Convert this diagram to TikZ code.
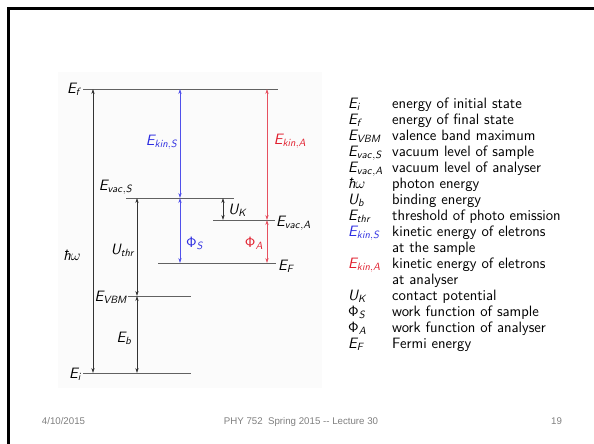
\RequirePackage{fix-cm}
\documentclass[tikz,border=0pt]{standalone}
\usepackage{fontspec}
\newfontfamily\footfont{Liberation Sans}
\usetikzlibrary{arrows.meta}
\DeclareMathAlphabet{\mathsfit}{OT1}{cmss}{m}{sl}
\DeclareMathAlphabet{\mathsfup}{OT1}{cmss}{m}{n}
\definecolor{kinblue}{RGB}{45,45,225}
\definecolor{kinred}{RGB}{225,30,45}
\definecolor{lineblue}{RGB}{80,80,235}
\definecolor{linered}{RGB}{230,80,95}
\definecolor{footgray}{RGB}{128,128,128}
\newcommand\Esub[1]{\mathsfit{E}_{\mathsfit{#1}}}
\newcommand\hbomega{{\sffamily\itshape ħ}$\omega$}
\tikzset{
  level/.style={draw=black!62, line width=0.8pt},
  dbl/.style={{Stealth[length=5pt,width=3.2pt]}-{Stealth[length=5pt,width=3.2pt]}, line width=0.5pt},
  lbl/.style={font=\fontsize{15}{16}\selectfont, inner sep=1pt},
  foot/.style={font=\footfont\fontsize{9.7}{11}\selectfont, text=footgray, inner sep=0pt, anchor=base},
}
\begin{document}
\begin{tikzpicture}[x=1pt,y=-1pt]
\useasboundingbox (0,0) rectangle (594,444);
\fill[white] (0,0) rectangle (594,444);
% slide frame
\draw[line width=2.6pt] (7,8.5) -- (594,8.5);
\draw[line width=2.6pt] (8.3,7.2) -- (8.3,444);
% faint diagram background
\fill[black!1.5] (58,72) rectangle (322,388);

% level end points
\coordinate (f1) at (83,89);   \coordinate (f2) at (278,89);
\coordinate (vs1) at (126,198); \coordinate (vs2) at (234,198);
\coordinate (va1) at (213,220); \coordinate (va2) at (275,220);
\coordinate (F1) at (158,263);  \coordinate (F2) at (276,263);
\coordinate (vb1) at (128,296); \coordinate (vb2) at (191,296);
\coordinate (i1) at (83,373);   \coordinate (i2) at (191,373);
% arrow end points
\coordinate (hwT) at (93,89);   \coordinate (hwB) at (93,373);
\coordinate (bT) at (180,89);   \coordinate (bM) at (180,198); \coordinate (bB) at (180,263);
\coordinate (rT) at (267,89);   \coordinate (rM) at (267,220); \coordinate (rB) at (267,263);
\coordinate (ukT) at (223,198); \coordinate (ukB) at (223,220);
\coordinate (tT) at (137,198);  \coordinate (tM) at (137,296); \coordinate (tB) at (137,373);

% levels
\draw[level] (f1) -- (f2);
\draw[level] (vs1) -- (vs2);
\draw[level] (va1) -- (va2);
\draw[level] (F1) -- (F2);
\draw[level] (vb1) -- (vb2);
\draw[level] (i1) -- (i2);

% arrows
\draw[dbl, draw=black!80, fill=black!80] (hwT) -- (hwB);
\draw[dbl, draw=lineblue, fill=lineblue] (bT) -- (bM);
\draw[dbl, draw=lineblue, fill=lineblue] (bM) -- (bB);
\draw[dbl, draw=linered, fill=linered] (rT) -- (rM);
\draw[dbl, draw=linered, fill=linered] (rM) -- (rB);
\draw[dbl, draw=black!80, fill=black!80] (ukT) -- (ukB);
\draw[dbl, draw=black!80, fill=black!80] (tT) -- (tM);
\draw[dbl, draw=black!80, fill=black!80] (tM) -- (tB);

% level labels
\node[lbl, anchor=east] (Lf) at (83,89) {$\Esub{f}$};
\node[lbl] (Lvs) at (116,187) {$\Esub{vac,S}$};
\node[lbl, anchor=west] (Lva) at (275,223) {$\Esub{vac,A}$};
\node[lbl, anchor=west] (LF) at (277,266) {$\Esub{F}$};
\node[lbl, anchor=east] (Lvb) at (129,297) {$\Esub{VBM}$};
\node[lbl, anchor=east] (Li) at (83,374) {$\Esub{i}$};
% arrow labels
\node[lbl] (Lhw) at (72,255) {\hbomega};
\node[lbl, text=kinblue] (LkS) at (162,142) {$\Esub{kin,S}$};
\node[lbl, text=kinred] (LkA) at (290,141) {$\Esub{kin,A}$};
\node[lbl, text=kinblue] (LpS) at (195,243) {$\mathsfup{\Phi}_{\mathsfit{S}}$};
\node[lbl, text=kinred] (LpA) at (254,243) {$\mathsfup{\Phi}_{\mathsfit{A}}$};
\node[lbl] (LuK) at (238,210) {$\mathsfit{U}_{\mathsfit{K}}$};
\node[lbl] (Lut) at (123,250) {$\mathsfit{U}_{\mathsfit{thr}}$};
\node[lbl] (Leb) at (124,338) {$\Esub{b}$};

% legend
\node[anchor=north west, inner sep=0pt, font=\sffamily\fontsize{15}{16}\selectfont] (legend) at (348,96.8) {%
\begin{tabular}{@{}p{44pt}@{}l@{}}
$\Esub{i}$ & energy of initial state\\
$\Esub{f}$ & energy of final state\\
$\Esub{VBM}$ & valence band maximum\\
$\Esub{vac,S}$ & vacuum level of sample\\
$\Esub{vac,A}$ & vacuum level of analyser\\
\hbomega & photon energy\\
$\mathsfit{U}_{\mathsfit{b}}$ & binding energy\\
$\Esub{thr}$ & threshold of photo emission\\
\textcolor{kinblue}{$\Esub{kin,S}$} & kinetic energy of eletrons\\
 & at the sample\\
\textcolor{kinred}{$\Esub{kin,A}$} & kinetic energy of eletrons\\
 & at analyser\\
$\mathsfit{U}_{\mathsfit{K}}$ & contact potential\\
$\mathsfup{\Phi}_{\mathsfit{S}}$ & work function of sample\\
$\mathsfup{\Phi}_{\mathsfit{A}}$ & work function of analyser\\
$\Esub{F}$ & Fermi energy
\end{tabular}};

% footer
\node[foot] (date) at (63.5,424) {4/10/2015};
\node[foot] (title) at (301,424) {PHY 752\ \ Spring 2015 -{}- Lecture 30};
\node[foot] (page) at (556.5,424) {19};
\end{tikzpicture}
\end{document}
